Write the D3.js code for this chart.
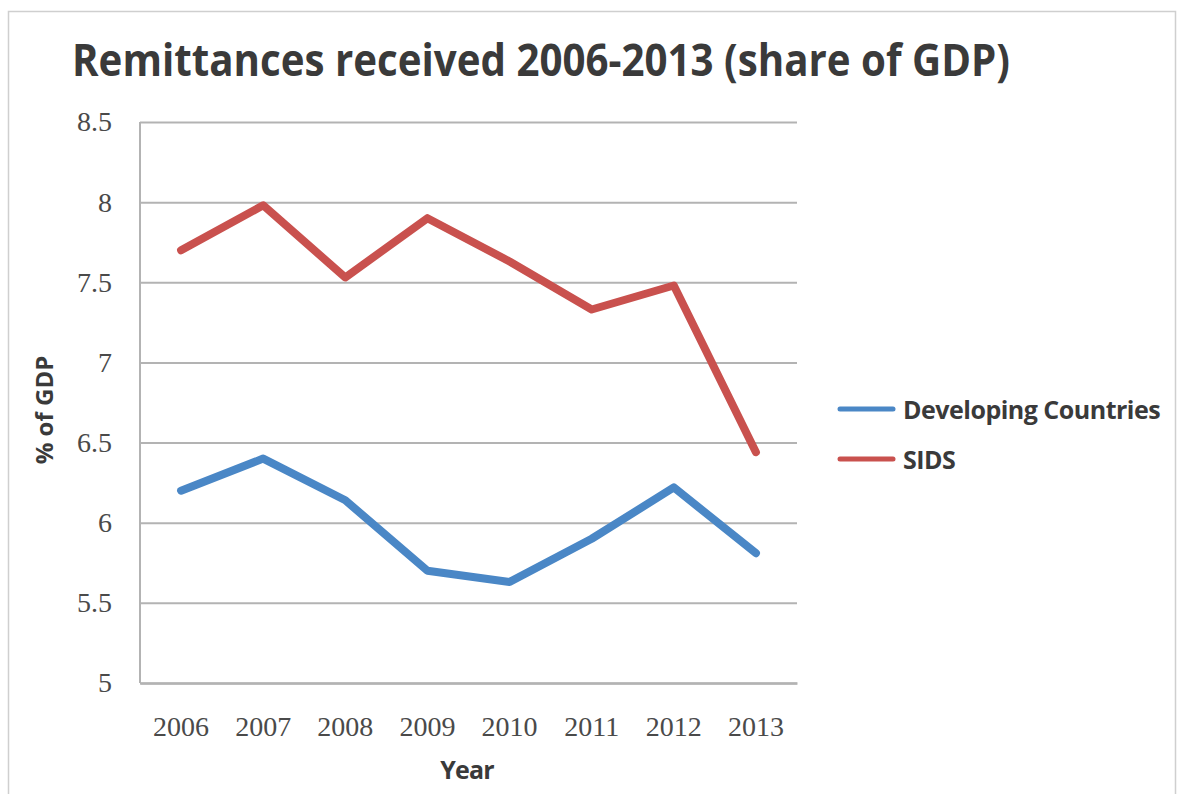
<!DOCTYPE html>
<html><head><meta charset="utf-8">
<script src="https://cdn.jsdelivr.net/npm/d3@7"></script>
<style>body{margin:0;background:#fff}</style>
</head><body>
<script>
const years = ["2006","2007","2008","2009","2010","2011","2012","2013"];
const developing = [6.20, 6.40, 6.14, 5.70, 5.63, 5.90, 6.22, 5.81];
const sids = [7.70, 7.98, 7.53, 7.90, 7.63, 7.33, 7.48, 6.44];
const yTicks = [5, 5.5, 6, 6.5, 7, 7.5, 8, 8.5];
const seriesNames = ["Developing Countries", "SIDS"];
const colors = ["#4a87c6", "#c9514e"];

(function () {
const W = 1178, H = 794;
const svg = d3.select("body").append("svg").attr("width", W).attr("height", H);
svg.append("rect").attr("x", 8.5).attr("y", 11.5).attr("width", 1167).attr("height", 790)
  .attr("fill", "#fff").attr("stroke", "#cfcfcf").attr("stroke-width", 1.5);

const pL = 140, pR = 797, pT = 122, pB = 683;
const x = d3.scaleBand().domain(years).range([pL, pR]);
const y = d3.scaleLinear().domain([5, 8.5]).range([pB, pT]);

svg.append("text").attr("x", 72).attr("y", 76)
  .attr("font-family", "Open Sans").attr("font-weight", 700).attr("font-size", 44)
  .attr("fill", "#3a3a3a").attr("textLength", 938).attr("lengthAdjust", "spacingAndGlyphs")
  .text("Remittances received 2006-2013 (share of GDP)");

const gy = svg.append("g").attr("transform", `translate(${pL},0)`)
  .call(d3.axisLeft(y).tickValues(yTicks).tickSize(-(pR - pL)).tickFormat(d3.format("")));
gy.select(".domain").remove();
gy.selectAll(".tick line").attr("stroke", "#b3b3b3").attr("stroke-width", 2);
gy.selectAll(".tick text").attr("x", -28).attr("font-family", "Liberation Serif")
  .attr("font-size", 28).attr("fill", "#4a4a4a");

svg.append("line").attr("x1", pL).attr("x2", pL).attr("y1", pT).attr("y2", pB)
  .attr("stroke", "#b3b3b3").attr("stroke-width", 2);

const gx = svg.append("g").attr("transform", `translate(0,${pB})`)
  .call(d3.axisBottom(x).tickSize(0));
gx.select(".domain").attr("stroke", "#b3b3b3").attr("stroke-width", 2.5);
gx.selectAll(".tick text").attr("dy", 0).attr("y", 53).attr("font-family", "Liberation Serif")
  .attr("font-size", 28).attr("fill", "#4a4a4a");

svg.append("text").attr("x", 467).attr("y", 779).attr("text-anchor", "middle")
  .attr("font-family", "Open Sans").attr("font-weight", 700).attr("font-size", 25)
  .attr("letter-spacing", -0.8).attr("fill", "#3a3a3a").text("Year");
svg.append("text").attr("transform", "translate(53,410) rotate(-90)").attr("text-anchor", "middle")
  .attr("font-family", "Open Sans").attr("font-weight", 700).attr("font-size", 24)
  .attr("fill", "#3a3a3a").text("% of GDP");

const line = d3.line().x((d, i) => x(years[i]) + x.bandwidth() / 2).y(d => y(d));
[developing, sids].forEach((s, k) => {
  svg.append("path").datum(s).attr("d", line).attr("fill", "none")
    .attr("stroke", colors[k]).attr("stroke-width", 8)
    .attr("stroke-linejoin", "round").attr("stroke-linecap", "round");
});

seriesNames.forEach((n, k) => {
  const ly = 409 + k * 50;
  svg.append("line").attr("x1", 840).attr("x2", 893).attr("y1", ly).attr("y2", ly)
    .attr("stroke", colors[k]).attr("stroke-width", 5).attr("stroke-linecap", "round");
  svg.append("text").attr("x", 903).attr("y", ly + 10)
    .attr("font-family", "Open Sans").attr("font-weight", 700).attr("font-size", 25)
    .attr("fill", "#3a3a3a").attr("letter-spacing", -0.5).text(n);
});
})();
</script>
</body></html>
